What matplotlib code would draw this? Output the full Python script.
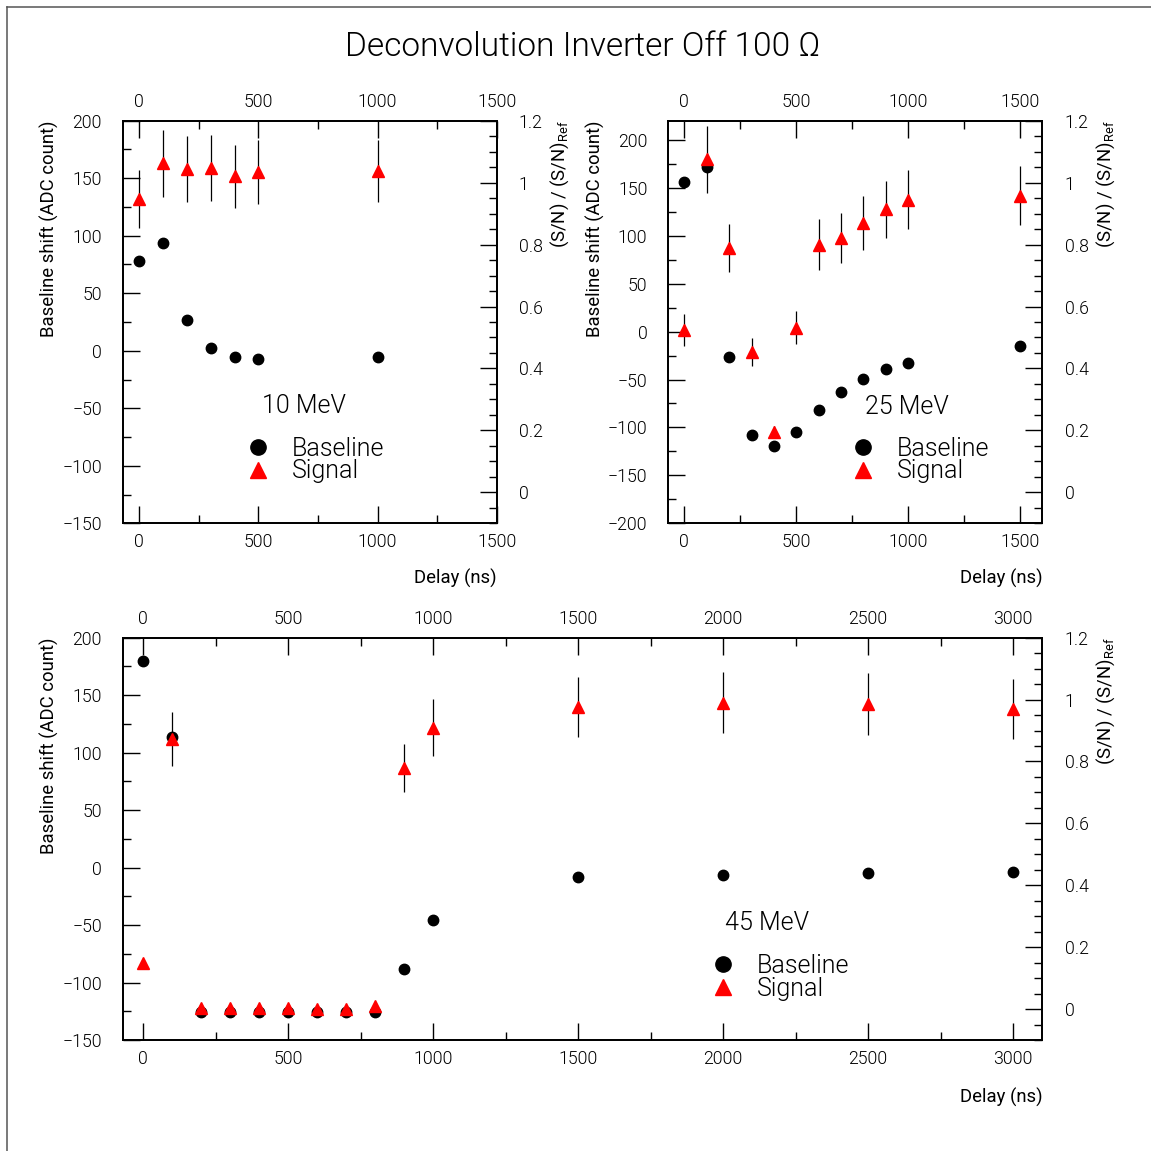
import matplotlib
matplotlib.use('Agg')
import matplotlib.pyplot as plt
from matplotlib import font_manager as fm
from matplotlib.ticker import MultipleLocator, FuncFormatter
from matplotlib.lines import Line2D

# ---------------- data ----------------
delay_10 = [0, 100, 200, 300, 400, 500, 1000]
base_10 = [78, 94, 26.5, 2.5, -5, -7, -5]
sig_10 = [0.947, 1.063, 1.044, 1.048, 1.020, 1.035, 1.039]
err_10 = [0.095, 0.108, 0.105, 0.106, 0.101, 0.104, 0.100]

delay_25 = [0, 100, 200, 300, 400, 500, 600, 700, 800, 900, 1000, 1500]
base_25 = [156.5, 171.5, -26, -108, -119, -104.5, -82, -63, -49, -39, -32.5, -15.5]
sig_25 = [0.524, 1.075, 0.788, 0.454, 0.196, 0.532, 0.800, 0.820, 0.871, 0.914, 0.945, 0.958]
err_25 = [0.052, 0.108, 0.078, 0.045, 0.018, 0.053, 0.081, 0.081, 0.087, 0.092, 0.095, 0.095]

delay_45 = [0, 100, 200, 300, 400, 500, 600, 700, 800, 900, 1000, 1500, 2000, 2500, 3000]
base_45 = [179.5, 114, -126, -126, -126, -126, -126, -126, -126, -88, -45.5, -8, -6.5, -5, -4]
sig_45 = [0.148, 0.872, 0.004, 0.003, 0.002, 0.002, 0.001, 0.001, 0.010, 0.778, 0.909, 0.975, 0.990, 0.986, 0.970]
err_45 = [0, 0.088, 0, 0, 0, 0, 0, 0, 0, 0.078, 0.092, 0.097, 0.099, 0.099, 0.096]

title = 'Deconvolution Inverter Off 100 \u03a9'
legend_labels = ['Baseline', 'Signal']
ylabel_left = 'Baseline shift (ADC count)'
ylabel_right = r'(S/N) / (S/N)$_{\mathregular{Ref}}$'
xlabel = 'Delay (ns)'


# ---------------- font ----------------
def pick_font():
    prefs = ['Roboto', 'Lato', 'Open Sans', 'Inter', 'Noto Sans', 'DejaVu Sans']
    for p in prefs:
        for e in fm.fontManager.ttflist:
            w = e.weight
            if isinstance(w, str):
                w = fm.weight_dict.get(w, 400)
            if e.name in (p, p + ' Light') and e.style == 'normal' and w <= 300 \
                    and 'ondensed' not in e.fname:
                return e.name, w
    return 'DejaVu Sans', 400


fname, fweight = pick_font()
plt.rcParams['font.family'] = [fname, 'DejaVu Sans']
plt.rcParams['font.weight'] = fweight
plt.rcParams['axes.unicode_minus'] = True

TICK_FS = 12.8
LAB_FS = 13.3
BIG_FS = 18

fig = plt.figure(figsize=(11.51, 11.51), dpi=100)


def fmt_right(v, p):
    return f'{round(v, 6) + 0:g}'


def panel(rect, xlim, ylim, delays, base, sig, err, energy, txt_pos, leg_pos,
          ylx, yrx, xly):
    ax = fig.add_axes(rect)
    ax2 = ax.twinx()
    ax.set_xlim(*xlim)
    ax.set_ylim(*ylim)
    ax2.set_ylim(-0.1, 1.2)

    ax.xaxis.set_major_locator(MultipleLocator(500))
    ax.xaxis.set_minor_locator(MultipleLocator(250))
    ax.yaxis.set_major_locator(MultipleLocator(50))
    ax.yaxis.set_minor_locator(MultipleLocator(25))
    ax2.yaxis.set_major_locator(MultipleLocator(0.2))
    ax2.yaxis.set_minor_locator(MultipleLocator(0.05))
    ax2.yaxis.set_major_formatter(FuncFormatter(fmt_right))

    for a in (ax, ax2):
        for s in a.spines.values():
            s.set_linewidth(1.3)
    ax.tick_params(axis='x', which='both', direction='in', top=True, bottom=True,
                   labeltop=True, labelbottom=True, labelsize=TICK_FS, pad=7)
    ax.tick_params(axis='y', which='both', direction='in', left=True, right=False,
                   labelsize=TICK_FS, pad=15)
    ax2.tick_params(axis='y', which='both', direction='in', right=True, left=False,
                    labelsize=TICK_FS, pad=16)
    for a in (ax, ax2):
        a.tick_params(which='major', length=12, width=1.0)
        a.tick_params(which='minor', length=6, width=1.0)

    ax.plot(delays, base, 'o', color='black', ms=7.5, zorder=3)
    ax2.errorbar(delays, sig, yerr=err, fmt='none', ecolor='black',
                 elinewidth=0.9, capsize=0, zorder=2)
    ax2.plot(delays, sig, '^', color='red', mec='red', ms=8, zorder=3)

    ax.text(txt_pos[0], txt_pos[1], energy, transform=ax.transAxes,
            fontsize=BIG_FS, ha='left', va='center')
    handles = [Line2D([], [], ls='none', marker='o', color='black', ms=11),
               Line2D([], [], ls='none', marker='^', color='red', ms=11)]
    ax2.legend(handles, legend_labels, loc='upper left', bbox_to_anchor=leg_pos,
               frameon=False, fontsize=BIG_FS, handlelength=1.0,
               handletextpad=0.86, labelspacing=-0.06, borderpad=0,
               borderaxespad=0, numpoints=1)

    ax.set_ylabel(ylabel_left, loc='top', fontsize=LAB_FS)
    ax.yaxis.set_label_coords(ylx, 1.0)
    ax.yaxis.label.set_va('center')
    ax2.set_ylabel(ylabel_right, loc='top', fontsize=LAB_FS)
    ax2.yaxis.set_label_coords(yrx, 1.0)
    ax2.yaxis.label.set_va('center')
    ax.set_xlabel(xlabel, loc='right', fontsize=LAB_FS)
    ax.xaxis.set_label_coords(1.0, xly)
    ax.xaxis.label.set_va('center')
    return ax, ax2


panel([0.10660, 0.54535, 0.32494, 0.34979], (-70, 1500), (-150, 200),
      delay_10, base_10, sig_10, err_10, '10 MeV', (0.3725, 0.2913),
      (0.3284, 0.2148), -0.197, 1.169, -0.138)
panel([0.58063, 0.54535, 0.32494, 0.34979], (-72, 1600), (-200, 220),
      delay_25, base_25, sig_25, err_25, '25 MeV', (0.526, 0.2896),
      (0.4872, 0.2148), -0.196, 1.170, -0.138)
panel([0.10660, 0.09644, 0.79896, 0.34953], (-70, 3100), (-150, 200),
      delay_45, base_45, sig_45, err_45, '45 MeV', (0.655, 0.2908),
      (0.6392, 0.2137), -0.0801, 1.0693, -0.142)

fig.text(583 / 1151, 1 - 47 / 1151, title, ha='center', va='center', fontsize=24)

# canvas border (top and left)
fig.add_artist(Line2D([7.5 / 1151, 1], [1 - 6.5 / 1151] * 2,
                      transform=fig.transFigure, color='#555555', lw=1.1))
fig.add_artist(Line2D([7.5 / 1151] * 2, [0, 1 - 6.5 / 1151],
                      transform=fig.transFigure, color='#555555', lw=1.1))

fig.savefig('out.png', dpi=100)
